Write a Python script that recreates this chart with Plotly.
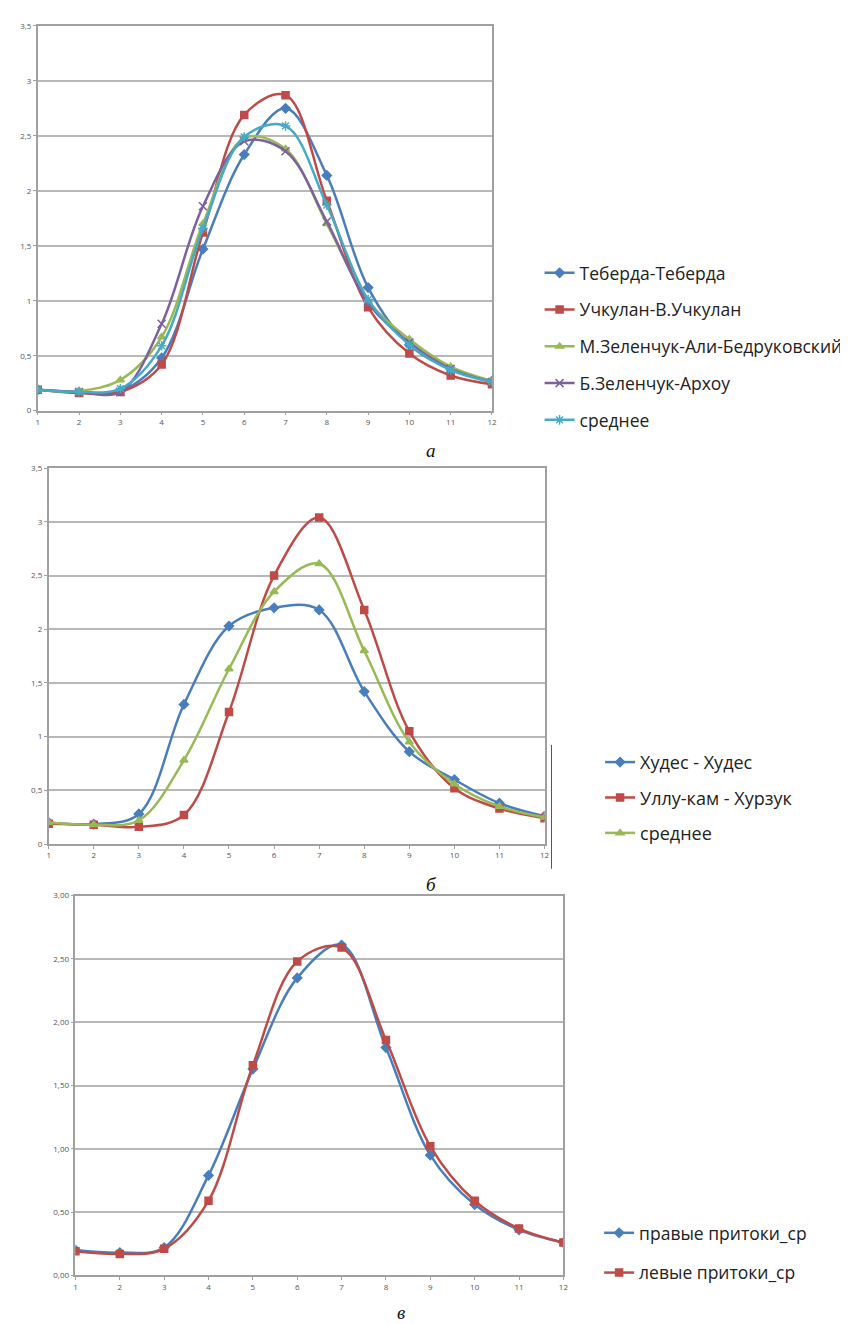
import plotly.graph_objects as go

months = list(range(1, 13))

# Panel а
teberda = [0.19, 0.17, 0.18, 0.48, 1.47, 2.33, 2.75, 2.14, 1.12, 0.60, 0.38, 0.27]
uchkulan = [0.19, 0.16, 0.17, 0.42, 1.62, 2.69, 2.87, 1.91, 0.94, 0.52, 0.32, 0.24]
m_zelenchuk = [0.19, 0.18, 0.28, 0.67, 1.70, 2.48, 2.38, 1.70, 1.00, 0.65, 0.40, 0.27]
b_zelenchuk = [0.19, 0.17, 0.17, 0.79, 1.86, 2.45, 2.36, 1.72, 0.98, 0.62, 0.38, 0.26]
avg_a = [0.19, 0.17, 0.20, 0.59, 1.66, 2.49, 2.59, 1.87, 1.01, 0.60, 0.37, 0.26]
names_a = ["Теберда-Теберда", "Учкулан-В.Учкулан", "М.Зеленчук-Али-Бедруковский",
           "Б.Зеленчук-Архоу", "среднее"]

# Panel б
khudes = [0.20, 0.185, 0.28, 1.30, 2.03, 2.20, 2.18, 1.42, 0.86, 0.60, 0.38, 0.26]
ullukam = [0.19, 0.18, 0.16, 0.27, 1.23, 2.50, 3.04, 2.18, 1.05, 0.52, 0.33, 0.24]
avg_b = [0.20, 0.18, 0.22, 0.78, 1.63, 2.35, 2.61, 1.80, 0.95, 0.56, 0.35, 0.25]
names_b = ["Худес - Худес", "Уллу-кам - Хурзук", "среднее"]

# Panel в
right_trib = [0.20, 0.18, 0.22, 0.79, 1.63, 2.35, 2.61, 1.80, 0.95, 0.56, 0.36, 0.26]
left_trib = [0.19, 0.17, 0.21, 0.59, 1.66, 2.48, 2.59, 1.86, 1.02, 0.59, 0.37, 0.26]
names_c = ["правые притоки_ср", "левые притоки_ср"]

yvals = [0, 0.5, 1, 1.5, 2, 2.5, 3, 3.5]
ytext_ab = ["0", "0,5", "1", "1,5", "2", "2,5", "3", "3,5"]
yvals_c = [0, 0.5, 1, 1.5, 2, 2.5, 3]
ytext_c = ["0,00", "0,50", "1,00", "1,50", "2,00", "2,50", "3,00"]
captions = ["а", "б", "в"]

BLUE = "#4A7EBB"
RED = "#BE4B48"
GREEN = "#98B954"
PURPLE = "#7D60A0"
CYAN = "#46AAC5"

W, H = 848, 1324

def px_x(p):
    return p / W

def px_y(p):
    return 1 - p / H

fig = go.Figure()

def add(y, name, color, symbol, size, xa, ya, legend, group, lw=2.5):
    fig.add_trace(go.Scatter(
        x=months, y=y, name=name, mode="lines+markers",
        line=dict(color=color, width=lw, shape="spline", smoothing=1.0),
        marker=dict(symbol=symbol, size=size, color=color,
                    line=dict(color=color, width=1.5)),
        xaxis=xa, yaxis=ya, legend=legend, legendgroup=group,
    ))

add(teberda, names_a[0], BLUE, "diamond", 7, "x", "y", "legend", "a1")
add(uchkulan, names_a[1], RED, "square", 7, "x", "y", "legend", "a2")
add(m_zelenchuk, names_a[2], GREEN, "triangle-up", 7, "x", "y", "legend", "a3")
add(b_zelenchuk, names_a[3], PURPLE, "x-thin", 8, "x", "y", "legend", "a4")
add(avg_a, names_a[4], CYAN, "asterisk", 8, "x", "y", "legend", "a5")

add(khudes, names_b[0], BLUE, "diamond", 7, "x2", "y2", "legend2", "b1")
add(ullukam, names_b[1], RED, "square", 7, "x2", "y2", "legend2", "b2")
add(avg_b, names_b[2], GREEN, "triangle-up", 7, "x2", "y2", "legend2", "b3")

add(right_trib, names_c[0], BLUE, "diamond", 7, "x3", "y3", "legend3", "c1")
add(left_trib, names_c[1], RED, "square", 7, "x3", "y3", "legend3", "c2")

GRID = "#B8B8B8"
AXL = "#A0A0A0"
TICKF = dict(family="Open Sans, Arial, sans-serif", size=8, color="#555555")

def xaxis(domain, anchor):
    return dict(domain=domain, anchor=anchor, range=[1, 12], tickmode="array",
                tickvals=months, ticktext=[str(m) for m in months],
                showgrid=False, zeroline=False, showline=True, linecolor=AXL,
                linewidth=1.5, mirror=True, ticks="outside", ticklen=3,
                tickcolor=AXL, tickfont=TICKF, fixedrange=True)

def yaxis(domain, anchor, vals, texts, top):
    return dict(domain=domain, anchor=anchor, range=[0, top], tickmode="array",
                tickvals=vals, ticktext=texts, showgrid=True, gridcolor=GRID,
                gridwidth=1.5, zeroline=False, showline=True, linecolor=AXL,
                linewidth=1.5, mirror=True, ticks="outside", ticklen=3,
                tickcolor=AXL, tickfont=TICKF, fixedrange=True)

LEGF = dict(family="Open Sans, Arial, sans-serif", size=17.5, color="#222222")

fig.update_layout(
    width=W, height=H, margin=dict(l=0, r=0, t=0, b=0),
    paper_bgcolor="white", plot_bgcolor="white", showlegend=True,
    xaxis=xaxis([px_x(28), px_x(486)], "y"),
    yaxis=yaxis([px_y(400), px_y(12)], "x", yvals, ytext_ab, 3.5),
    xaxis2=xaxis([px_x(39), px_x(539)], "y2"),
    yaxis2=yaxis([px_y(837), px_y(458)], "x2", yvals, ytext_ab, 3.5),
    xaxis3=xaxis([px_x(66), px_x(558)], "y3"),
    yaxis3=yaxis([px_y(1272), px_y(889)], "x3", yvals_c, ytext_c, 3.0),
    legend=dict(x=px_x(534), y=px_y(243), xanchor="left", yanchor="top",
                font=LEGF, tracegroupgap=11, bgcolor="rgba(0,0,0,0)",
                itemsizing="trace"),
    legend2=dict(x=px_x(595), y=px_y(736), xanchor="left", yanchor="top",
                 font=dict(LEGF, size=18), tracegroupgap=9,
                 bgcolor="rgba(0,0,0,0)", itemsizing="trace"),
    legend3=dict(x=px_x(594), y=px_y(1211), xanchor="left", yanchor="top",
                 font=LEGF, tracegroupgap=14, bgcolor="rgba(0,0,0,0)",
                 itemsizing="trace"),
)

cap_font = dict(family="Liberation Serif, DejaVu Serif, serif", size=19,
                color="#111111")
for txt, (cx, cy) in zip(captions, [(425, 440), (425, 878), (394, 1309)]):
    fig.add_annotation(text=f"<i>{txt}</i>", x=px_x(cx), y=px_y(cy),
                       xref="paper", yref="paper", showarrow=False,
                       font=cap_font, xanchor="center", yanchor="middle")

# stray frame line to the right of panel б
fig.add_shape(type="line", xref="paper", yref="paper",
              x0=px_x(546), x1=px_x(546), y0=px_y(737), y1=px_y(862),
              line=dict(color="#555555", width=1))

fig.write_html("out.html")
